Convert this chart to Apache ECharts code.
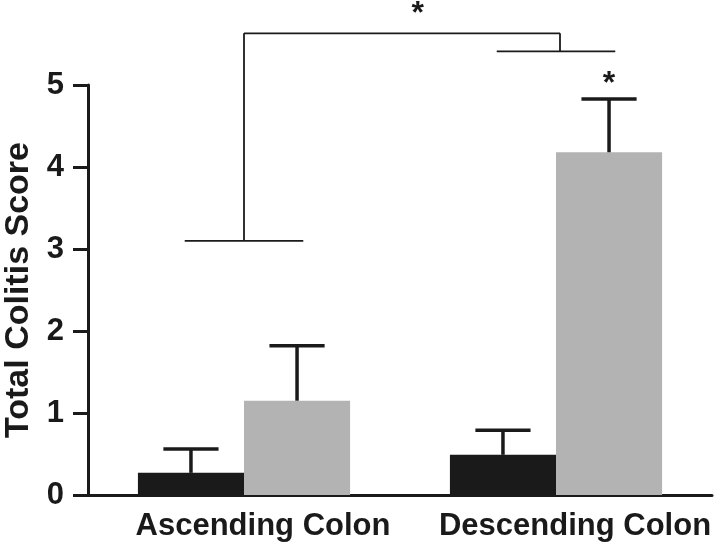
<!DOCTYPE html>
<html>
<head>
<meta charset="utf-8">
<script src="https://cdn.jsdelivr.net/npm/echarts@6/dist/echarts.min.js"></script>
<style>
	html, body { margin: 0; padding: 0; background: #fff; }
	#main { width: 720px; height: 544px; }
</style>
</head>
<body>
<div id="main"></div>
<script>
	// categories and values
	var categories = ['Ascending Colon', 'Descending Colon'];
	var darkMeans = [0.27, 0.49];
	var darkUpper = [0.56, 0.79];
	var greyMeans = [1.15, 4.18];
	var greyUpper = [1.82, 4.83];
	var yTicks = [0, 1, 2, 3, 4, 5];

	// significance annotation levels (score units)
	var bracketLeftLevel = 3.10;
	var bracketTopLevel = 5.63;
	var bracketRightLevel = 5.41;
	var starTopLevel = 5.95;
	var starBarLevel = 5.10;

	var font = 'Liberation Sans, Arial, sans-serif';
	var ink = '#1a1a1a';

	function errorSeries(upper, means, side) {
		return {
			type: 'custom',
			z: 5,
			data: means.map(function (m, i) { return [i, m, upper[i]]; }),
			renderItem: function (params, api) {
				var band = api.size([1, 0])[0];
				var barW = band * 0.34;
				var base = api.coord([api.value(0), api.value(1)]);
				var x = base[0] + side * barW / 2;
				var top = api.coord([api.value(0), api.value(2)])[1];
				var half = barW * 0.26;
				var style = { stroke: ink, lineWidth: 3.5 };
				return {
					type: 'group',
					children: [
						{ type: 'line', shape: { x1: x, y1: base[1], x2: x, y2: top }, style: style },
						{ type: 'line', shape: { x1: x - half, y1: top, x2: x + half, y2: top }, style: style }
					]
				};
			}
		};
	}

	var option = {
		backgroundColor: '#fff',
		animation: false,
		grid: { left: 88, right: 8, top: 85, bottom: 49, outerBoundsMode: 'none', containLabel: false },
		xAxis: {
			type: 'category',
			data: categories,
			axisLine: { lineStyle: { color: ink, width: 3 } },
			axisTick: { alignWithLabel: true, length: 13, lineStyle: { color: ink, width: 3 } },
			axisLabel: {
				interval: 0, hideOverlap: false, color: ink, fontSize: 31, fontWeight: 'bold', fontFamily: font,
				margin: 16, padding: [0, 0, 0, 38]
			}
		},
		yAxis: {
			type: 'value',
			min: yTicks[0],
			max: yTicks[yTicks.length - 1],
			interval: 1,
			name: 'Total Colitis Score',
			nameLocation: 'middle',
			nameGap: 51,
			nameTextStyle: { color: ink, fontSize: 34, fontWeight: 'bold', fontFamily: font },
			axisLine: { show: true, lineStyle: { color: ink, width: 3 } },
			axisTick: { show: true, length: 15, lineStyle: { color: ink, width: 3 } },
			axisLabel: { color: ink, fontSize: 31, fontWeight: 'bold', fontFamily: font, margin: 24 },
			splitLine: { show: false }
		},
		series: [
			{
				type: 'bar',
				data: darkMeans,
				barWidth: '34%',
				barGap: '0%',
				itemStyle: { color: ink }
			},
			{
				type: 'bar',
				data: greyMeans,
				barWidth: '34%',
				barGap: '0%',
				itemStyle: { color: '#b3b3b3' }
			},
			errorSeries(darkUpper, darkMeans, -1),
			errorSeries(greyUpper, greyMeans, 1),
			{
				// significance brackets and stars
				type: 'custom',
				clip: false,
				z: 6,
				data: [[0]],
				renderItem: function (params, api) {
					var band = api.size([1, 0])[0];
					var c0 = api.coord([0, bracketLeftLevel]);
					var c1 = api.coord([1, bracketRightLevel]);
					var yTop = api.coord([0, bracketTopLevel])[1];
					var halfShort = band * 0.19;
					var xRight = c1[0] + 4;
					var style = { stroke: ink, lineWidth: 1.8 };
					var starStyle = { text: '*', fill: ink, font: 'bold 32px ' + font, align: 'center', verticalAlign: 'middle' };
					var starTopX = c0[0] + (xRight - c0[0]) * 0.55;
					var starTopY = api.coord([0, starTopLevel])[1];
					var starBarX = c1[0] + band * 0.17;
					var starBarY = api.coord([1, starBarLevel])[1];
					return {
						type: 'group',
						children: [
							{ type: 'line', shape: { x1: c0[0] - halfShort, y1: c0[1], x2: c0[0] + halfShort, y2: c0[1] }, style: style },
							{ type: 'line', shape: { x1: c0[0], y1: c0[1], x2: c0[0], y2: yTop }, style: style },
							{ type: 'line', shape: { x1: c0[0], y1: yTop, x2: xRight, y2: yTop }, style: style },
							{ type: 'line', shape: { x1: xRight, y1: yTop, x2: xRight, y2: c1[1] }, style: style },
							{ type: 'line', shape: { x1: c1[0] - halfShort, y1: c1[1], x2: c1[0] + halfShort, y2: c1[1] }, style: style },
							{ type: 'text', x: starTopX, y: starTopY + 7, style: starStyle },
							{ type: 'text', x: starBarX, y: starBarY + 7, style: starStyle }
						]
					};
				}
			}
		]
	};

	var chart = echarts.init(document.getElementById('main'));
	chart.setOption(option);
</script>
</body>
</html>
